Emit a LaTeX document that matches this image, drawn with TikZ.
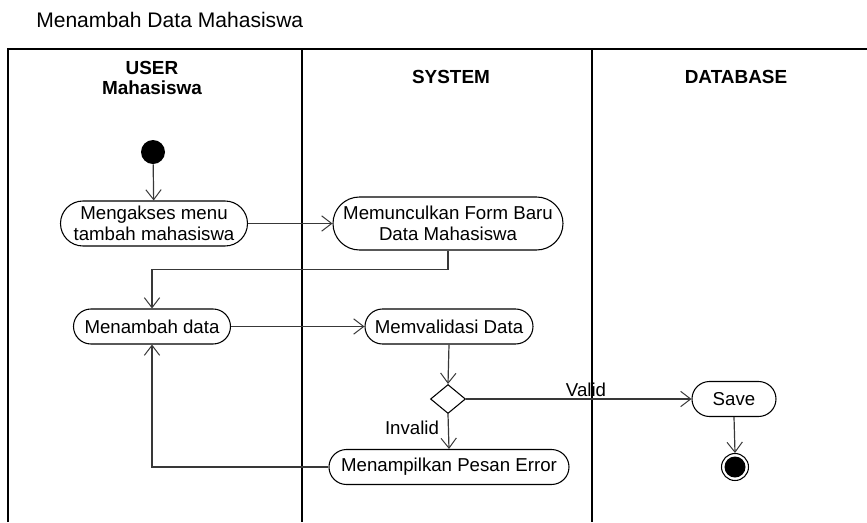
\documentclass[tikz,border=0pt]{standalone}
\usepackage{fontspec}
\setmainfont{Liberation Sans}
\usetikzlibrary{arrows.meta,shapes.misc,shapes.geometric}

\begin{document}
\begin{tikzpicture}[
  x=0.75pt, y=-0.75pt,
  lane/.style={line width=1.1pt, black},
  flow/.style={line width=0.9pt, draw=black!78, -{Straight Barb[length=7.5pt,width=11.5pt,line width=0.75pt]}},
  activity/.style={rounded rectangle, draw=black, line width=0.8pt, fill=white,
    inner sep=0pt, align=center, font=\fontsize{14}{15.75}\selectfont},
  header/.style={align=center, font=\bfseries\fontsize{14.2}{14.5}\selectfont},
  guard/.style={font=\fontsize{14}{15.75}\selectfont, inner sep=0pt},
]
\useasboundingbox (0,0) rectangle (867,522);

% title
\node[anchor=west, inner sep=0pt, font=\fontsize{15.8}{18}\selectfont] (title) at (36,20) {Menambah Data Mahasiswa};

% swimlanes
\draw[lane] (8,522) -- (8,49) -- (867,49);
\draw[lane] (302,49) -- (302,522);
\draw[lane] (592,49) -- (592,522);

\node[header] (huser) at (152,78) {USER\\Mahasiswa};
\node[header] (hsys) at (451,77) {SYSTEM};
\node[header] (hdb) at (736,77) {DATABASE};

% nodes
\node[circle, fill=black, minimum size=24pt*0.75, inner sep=0pt] (start) at (153,152) {};
\node[activity, minimum width=187*0.75pt, minimum height=45*0.75pt] (mengakses) at (154,223.5) {Mengakses menu\\tambah mahasiswa};
\node[activity, minimum width=230*0.75pt, minimum height=53*0.75pt] (form) at (448,223.5) {Memunculkan Form Baru\\Data Mahasiswa};
\node[activity, minimum width=157*0.75pt, minimum height=35*0.75pt] (tambah) at (152,326.5) {Menambah data};
\node[activity, minimum width=168*0.75pt, minimum height=35*0.75pt] (validasi) at (449,326.5) {Memvalidasi Data};
\node[diamond, draw=black, line width=0.8pt, fill=white, inner sep=0pt,
      minimum width=35*0.75pt, minimum height=29*0.75pt] (dec) at (448,399) {};
\node[activity, minimum width=240*0.75pt, minimum height=35*0.75pt] (error) at (449,467) {Menampilkan Pesan Error};
\node[activity, minimum width=84*0.75pt, minimum height=35*0.75pt] (save) at (734,399) {Save};
\node[circle, draw=black, line width=0.8pt, minimum size=27*0.75pt, inner sep=0pt] (stop) at (735,467) {};
\node[circle, fill=black, minimum size=21*0.75pt, inner sep=0pt] at (stop) {};

% connectors
\draw[flow] (start) -- (mengakses);
\draw[flow] (mengakses.east) -- (form.west);
\draw[flow] (form.south) -- ++(0,19) -| (tambah.north);
\draw[flow] (tambah.east) -- (validasi.west);
\draw[flow] (validasi.south) -- (dec.north);
\draw[flow] (dec.east) -- (save.west);
\draw[flow] (dec.south) -- (error.north);
\draw[flow] (error.west) -| (tambah.south);
\draw[flow] (save.south) -- (stop.north);

% guards
\node[guard] (gvalid) at (586,390) {Valid};
\node[guard] (ginvalid) at (412,428) {Invalid};
\end{tikzpicture}
\end{document}
